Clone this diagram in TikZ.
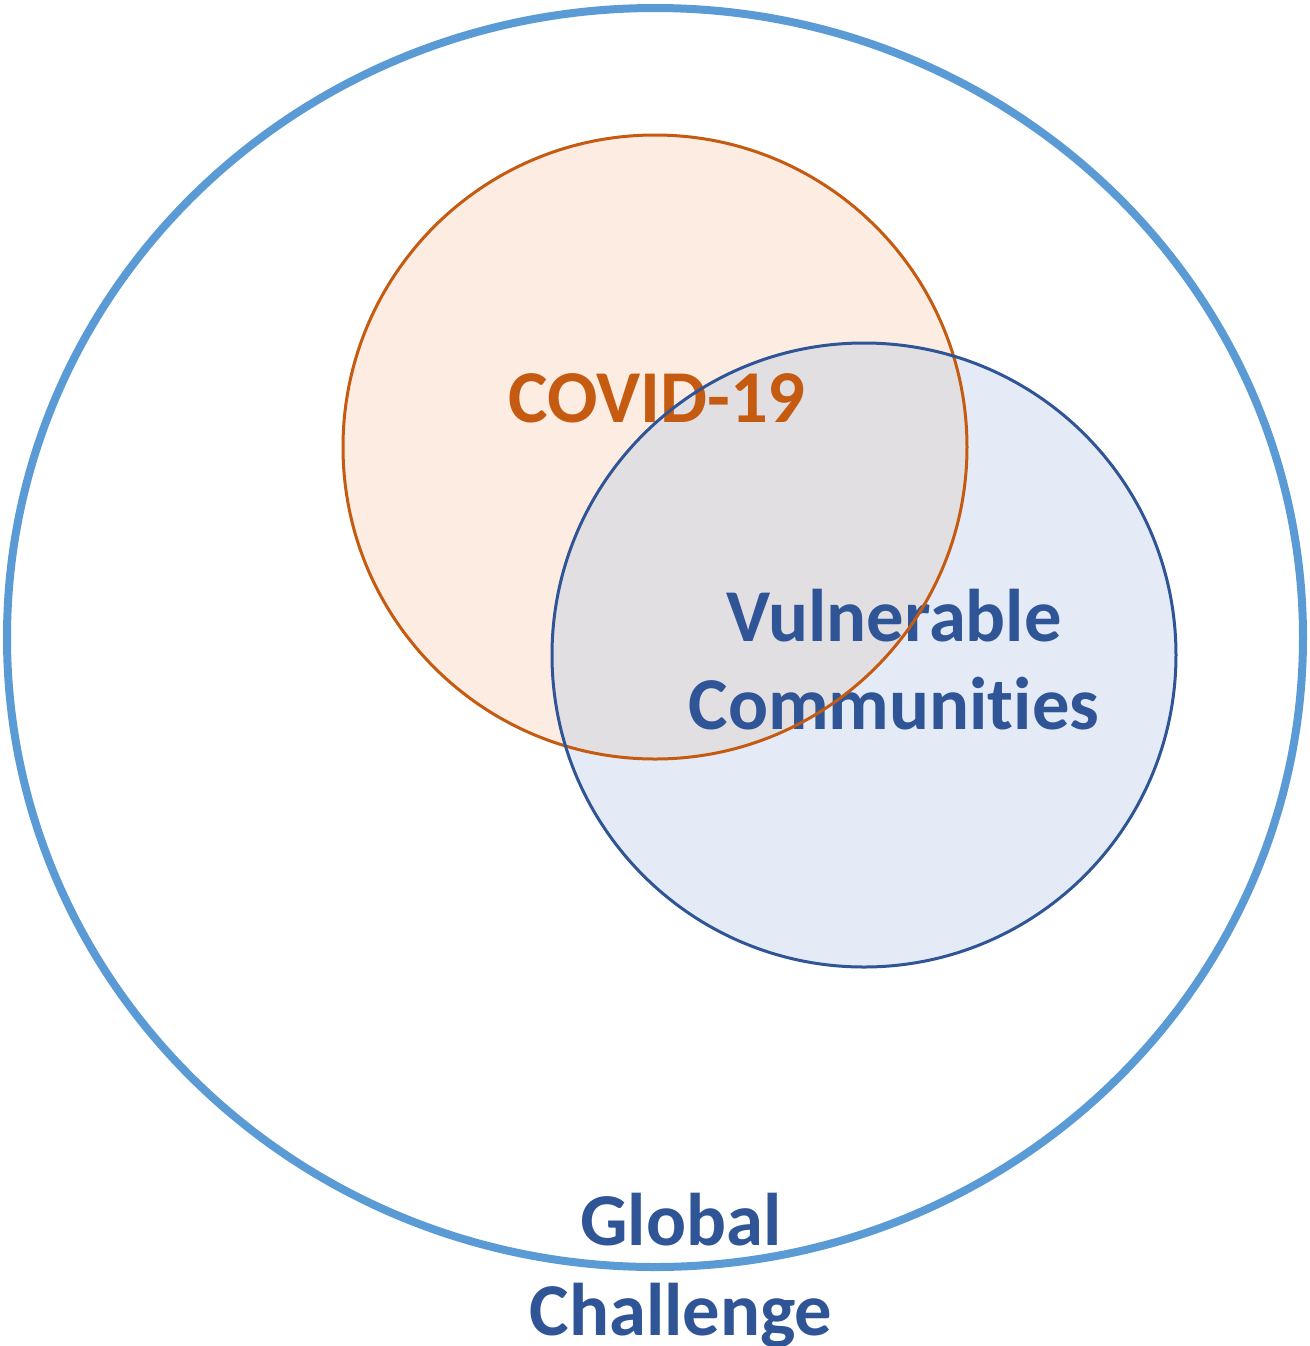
\documentclass[tikz,border=0pt]{standalone}
\usepackage{fontspec}
\setmainfont[Ligatures=NoCommon]{Carlito}
\definecolor{outerblue}{HTML}{5B9BD5}
\definecolor{covidorange}{HTML}{C55A11}
\definecolor{covidfill}{HTML}{F8CBAD}
\definecolor{vulblue}{HTML}{2F5597}
\definecolor{vulfill}{HTML}{B4C7E7}
\tikzset{
  lbl/.style={font=\bfseries\fontsize{37.3}{44}\selectfont, inner sep=0pt, anchor=base},
}
\begin{document}
\begin{tikzpicture}[x=0.5pt,y=-0.5pt]
\useasboundingbox (0,0) rectangle (1310,1346);
\fill[white] (0,0) rectangle (1310,1346);
% outer circle
\draw[outerblue, line width=4pt] (655,637.5) ellipse [x radius=648, y radius=629.5];
% fills
\fill[covidfill, fill opacity=0.35] (655,447) circle [radius=312];
\fill[vulfill, fill opacity=0.35] (864,655) circle [radius=312];
% labels
\node[lbl, text=covidorange] (covid) at (657,422) {COVID-19};
\node[lbl, text=vulblue] (vul1) at (894,641) {Vulnerable};
\node[lbl, text=vulblue] (vul2) at (894,729) {Communities};
\node[lbl, text=vulblue] (glob1) at (681,1245) {Global};
\node[lbl, text=vulblue] (glob2) at (681,1335) {Challenge};
% outlines
\draw[covidorange, line width=1.5pt] (655,447) circle [radius=312];
\draw[vulblue, line width=1.5pt] (864,655) circle [radius=312];
\end{tikzpicture}
\end{document}
